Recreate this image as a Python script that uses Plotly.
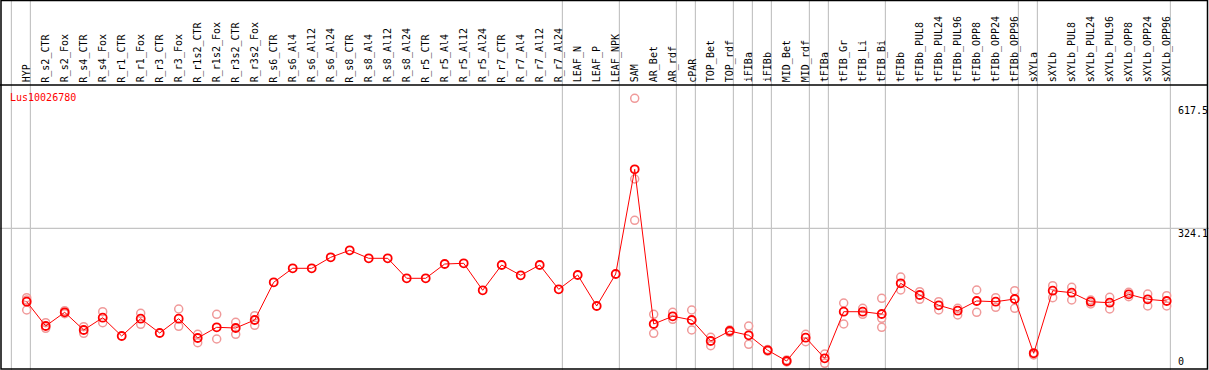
import plotly.graph_objects as go

W, H = 1209, 370

categories = ["HYP", "R_s2_CTR", "R_s2_Fox", "R_s4_CTR", "R_s4_Fox", "R_r1_CTR", "R_r1_Fox",
              "R_r3_CTR", "R_r3_Fox", "R_r1s2_CTR", "R_r1s2_Fox", "R_r3s2_CTR", "R_r3s2_Fox",
              "R_s6_CTR", "R_s6_Al4", "R_s6_Al12", "R_s6_Al24", "R_s8_CTR", "R_s8_Al4", "R_s8_Al12",
              "R_s8_Al24", "R_r5_CTR", "R_r5_Al4", "R_r5_Al12", "R_r5_Al24", "R_r7_CTR", "R_r7_Al4",
              "R_r7_Al12", "R_r7_Al24", "LEAF_N", "LEAF_P", "LEAF_NPK", "SAM", "AR_Bet", "AR_rdf",
              "cPAR", "TOP_Bet", "TOP_rdf", "iFIBa", "iFIBb", "MID_Bet", "MID_rdf", "tFIBa",
              "tFIB_Gr", "tFIB_Li", "tFIB_Bi", "tFIBb", "tFIBb_PUL8", "tFIBb_PUL24", "tFIBb_PUL96",
              "tFIBb_OPP8", "tFIBb_OPP24", "tFIBb_OPP96", "sXYLa", "sXYLb", "sXYLb_PUL8",
              "sXYLb_PUL24", "sXYLb_PUL96", "sXYLb_OPP8", "sXYLb_OPP24", "sXYLb_OPP96"]

mean_values = [153.8, 97.4, 129.2, 88.2, 116.7, 74.2, 114.4, 81.2, 114.4, 69.6, 94.4, 92.8, 111.4,
               198.8, 231.3, 231.3, 256.8, 273.1, 254.5, 254.5, 208.1, 208.1, 241.3, 242.9, 180.3,
               239.0, 215.1, 239.0, 182.6, 215.8, 143.9, 218.1, 461.0, 102.1, 120.0, 111.4, 62.6,
               85.8, 75.9, 41.1, 16.2, 70.3, 22.5, 130.6, 130.6, 125.3, 196.5, 169.4, 145.5, 132.9,
               155.5, 153.8, 160.1, 34.1, 179.4, 174.7, 153.8, 151.5, 171.0, 159.4, 155.5]

rep_a = [163.1, 105.1, 133.0, 95.8, 130.6, None, 126.9, None, 136.9, 78.2, 124.6, 106.0, 121.3,
         None, None, None, None, None, None, None, None, None, None, None, None, None, None,
         None, None, None, None, None, 625.7, 124.6, 129.2, 134.6, 71.2, 88.2, 97.4, 42.9, 18.6,
         78.2, 32.5, 150.8, 138.5, 161.7, 211.1, 177.0, 153.8, 138.5, 181.0, 163.1, 179.4, 35.5,
         191.0, 187.2, 157.8, 164.0, 175.6, 171.7, 167.7]
rep_b = [157.8, 92.1, 126.0, 80.5, 105.1, None, 101.4, None, 96.8, 58.7, 67.3, 78.2, 99.1,
         None, None, None, None, None, None, None, None, None, None, None, None, None, None,
         None, None, None, None, None, 438.5, 80.5, 113.0, 88.2, 51.7, 82.8, 55.0, 39.4, 13.9,
         61.0, 10.9, 102.1, 124.6, 115.3, 181.0, 159.4, 134.6, 123.0, 129.2, 140.8, 138.5, 30.2,
         163.1, 157.8, 148.5, 136.9, 165.4, 143.9, 143.9]
rep_c = [134.6, None, None, None, None, None, None, None, None, None, None, None, None,
         None, None, None, None, None, None, None, None, None, None, None, None, None, None,
         None, None, None, None, None, 342.7, None, None, None, None, None, None, None, None,
         None, None, None, None, 94.4, None, None, None, None, None, None, None, None,
         None, None, None, None, None, None, None]

group_breaks = [-1, 0, 28, 31, 34, 35, 37, 38, 39, 41, 42, 45, 52, 53, 60]
y_ticks = [0, 324.1, 617.5]
gene_name = "Lus10026780"

# pixel geometry
x_first_px, x_step_px = 26.7, 19.0
y_zero_px, px_per_unit = 368.0, 0.431
x_range = [-x_first_px / x_step_px, (W - x_first_px) / x_step_px]
y_min = -(H - y_zero_px) / px_per_unit
y_range = [y_min, y_min + H / px_per_unit]


def py(px):
    return 1 - px / H


def px_x(px):
    return px / W


FONT = "DejaVu Sans Mono"
fig = go.Figure()

rx, ry = [], []
for reps in (rep_a, rep_b, rep_c):
    for i, v in enumerate(reps):
        if v is not None:
            rx.append(i)
            ry.append(v)

fig.add_trace(go.Scatter(x=rx, y=ry, mode="markers",
                         marker=dict(symbol="circle-open", size=8, color="#f09a9a",
                                     line=dict(width=1.5, color="#f09a9a")),
                         showlegend=False, hoverinfo="skip"))
fig.add_trace(go.Scatter(x=list(range(len(categories))), y=mean_values, mode="lines+markers",
                         line=dict(color="#ff0000", width=1),
                         marker=dict(symbol="circle-open", size=8, color="#ff0000",
                                     line=dict(width=1.8, color="#ff0000")),
                         text=categories, showlegend=False))

shapes = []
for b in group_breaks:
    shapes.append(dict(type="line", xref="x", yref="paper", x0=b + 0.195, x1=b + 0.195,
                       y0=0, y1=1, line=dict(color="#c4c4c4", width=1.2), layer="below"))
shapes.append(dict(type="line", xref="paper", yref="y", x0=0, x1=1, y0=y_ticks[1], y1=y_ticks[1],
                   line=dict(color="#c4c4c4", width=1.2), layer="below"))
shapes.append(dict(type="rect", xref="paper", yref="paper", x0=px_x(1), x1=px_x(1207.5),
                   y0=py(369), y1=py(0.5), line=dict(color="black", width=1.5)))
shapes.append(dict(type="line", xref="paper", yref="paper", x0=0, x1=px_x(1207.5),
                   y0=py(85), y1=py(85), line=dict(color="black", width=1.5)))

annotations = []
for i, c in enumerate(categories):
    annotations.append(dict(x=i, xref="x", y=py(83.5), yref="paper", text=c, textangle=-90,
                            showarrow=False, xanchor="center", yanchor="bottom",
                            font=dict(family=FONT, size=10, color="black"), borderpad=0))
annotations.append(dict(x=px_x(9), xref="paper", y=py(98), yref="paper", text=gene_name,
                        showarrow=False, xanchor="left", yanchor="middle",
                        font=dict(family=FONT, size=10, color="#ff0000"), borderpad=0))
annotations.append(dict(x=px_x(1177), xref="paper", y=y_ticks[2], yref="y", text=str(y_ticks[2]),
                        showarrow=False, xanchor="left", yanchor="top", yshift=-2,
                        font=dict(family=FONT, size=10, color="black"), borderpad=0))
annotations.append(dict(x=px_x(1177), xref="paper", y=y_ticks[1], yref="y", text=str(y_ticks[1]),
                        showarrow=False, xanchor="left", yanchor="top", yshift=1,
                        font=dict(family=FONT, size=10, color="black"), borderpad=0))
annotations.append(dict(x=px_x(1177), xref="paper", y=y_ticks[0], yref="y", text=str(y_ticks[0]),
                        showarrow=False, xanchor="left", yanchor="bottom", yshift=0,
                        font=dict(family=FONT, size=10, color="black"), borderpad=0))

fig.update_layout(
    width=W, height=H, margin=dict(l=0, r=0, t=0, b=0),
    paper_bgcolor="white", plot_bgcolor="white",
    xaxis=dict(range=x_range, visible=False, fixedrange=True),
    yaxis=dict(range=y_range, visible=False, fixedrange=True),
    shapes=shapes, annotations=annotations,
)

fig.write_html("out.html", config={"displayModeBar": False},
               post_script="document.body.style.margin='0';document.body.style.overflow='hidden';")
